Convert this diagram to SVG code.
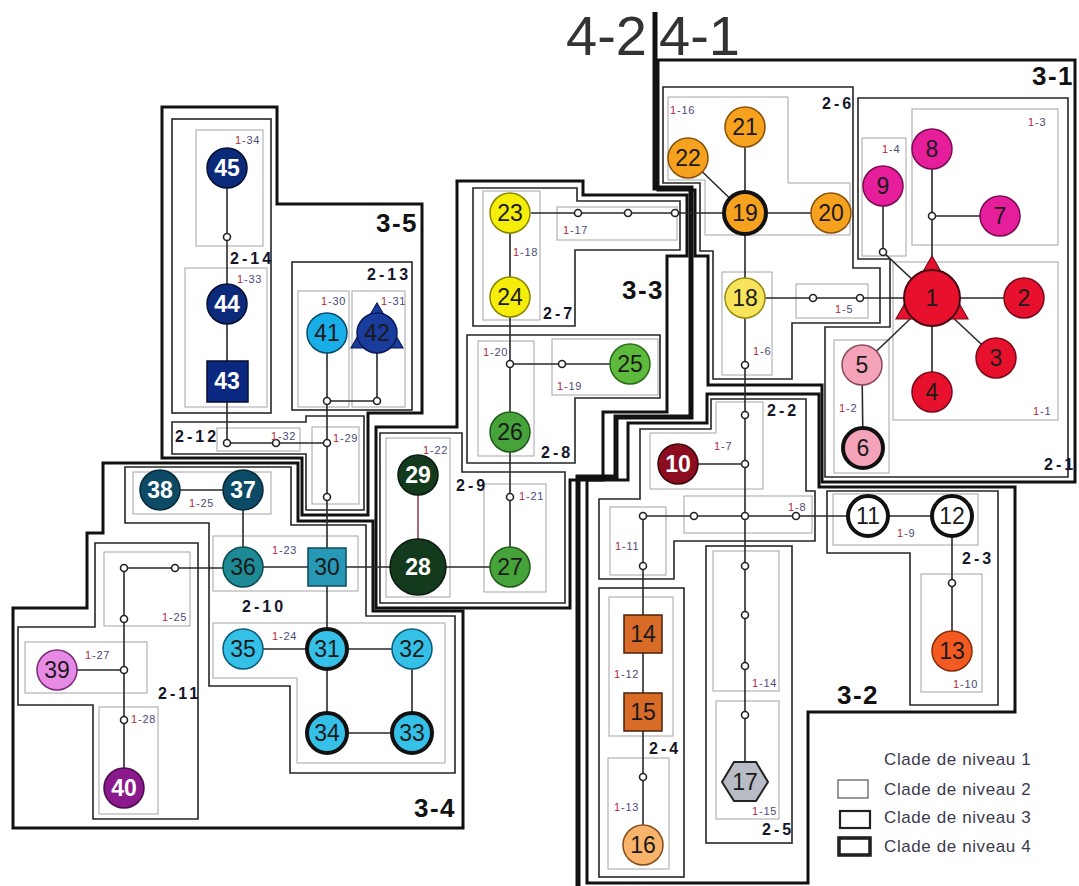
<svg xmlns="http://www.w3.org/2000/svg" width="1079" height="886" viewBox="0 0 1079 886">
<style>
.l1{fill:none;stroke:#a4a4a4;stroke-width:1}
.l2{fill:none;stroke:#262626;stroke-width:1.6}
.l3{fill:none;stroke:#111;stroke-width:3}
.l4{fill:none;stroke:#111;stroke-width:5}
.e{fill:none;stroke:#2a2a2a;stroke-width:1.6}
.j{fill:#fff;stroke:#222;stroke-width:1.6}
.k{stroke:#111;stroke-width:4}
.t{font-family:"Liberation Sans",Arial,sans-serif;font-size:23px;text-anchor:middle;fill:#1a1a1a}
.w{fill:#fff;font-weight:bold}
.s{font-family:"Liberation Sans",Arial,sans-serif;font-size:11px;fill:#4a4a78;letter-spacing:0.8px}
.r{fill:#b3263a}
.c2{font-family:"Liberation Sans",Arial,sans-serif;font-size:16px;font-weight:bold;fill:#15152a;letter-spacing:3px}
.c3{font-family:"Liberation Sans",Arial,sans-serif;font-size:26px;font-weight:bold;fill:#111;letter-spacing:1.5px}
.c4{font-family:"Liberation Sans",Arial,sans-serif;font-size:56px;fill:#333}
.lg{font-family:"Liberation Sans",Arial,sans-serif;font-size:17px;fill:#3a3a4c;letter-spacing:0.6px}
</style>
<rect width="1079" height="886" fill="#fff"/>

<g id="clades-level1">
<rect class="l1" x="893" y="262" width="165" height="158"/>
<rect class="l1" x="834" y="340" width="55" height="133"/>
<rect class="l1" x="912" y="109" width="146" height="136"/>
<rect class="l1" x="862" y="138" width="44" height="118"/>
<rect class="l1" x="796" y="284" width="72" height="34"/>
<rect class="l1" x="722" y="272" width="50" height="103"/>
<polygon class="l1" points="716,402 763,402 763,489 650,489 650,433 716,433"/>
<rect class="l1" x="684" y="496" width="128" height="37"/>
<rect class="l1" x="833" y="494" width="145" height="51"/>
<rect class="l1" x="921" y="574" width="61" height="118"/>
<rect class="l1" x="610" y="507" width="56" height="68"/>
<rect class="l1" x="609" y="597" width="64" height="139"/>
<rect class="l1" x="608" y="758" width="61" height="111"/>
<rect class="l1" x="713" y="551" width="66" height="140"/>
<rect class="l1" x="716" y="701" width="63" height="118"/>
<polygon class="l1" points="668,97 788,97 788,183 850,183 850,235 705,235 705,180 668,180"/>
<rect class="l1" x="557" y="207" width="120" height="33"/>
<rect class="l1" x="483" y="191" width="57" height="129"/>
<rect class="l1" x="552" y="339" width="106" height="56"/>
<rect class="l1" x="478" y="341" width="56" height="115"/>
<rect class="l1" x="484" y="484" width="62" height="108"/>
<rect class="l1" x="386" y="438" width="64" height="159"/>
<rect class="l1" x="213" y="536" width="145" height="55"/>
<polygon class="l1" points="213,623 445,623 445,763 297,763 297,678 213,678"/>
<rect class="l1" x="133" y="472" width="138" height="42"/>
<rect class="l1" x="104" y="552" width="86" height="74"/>
<rect class="l1" x="25" y="642" width="122" height="51"/>
<rect class="l1" x="99" y="707" width="59" height="107"/>
<rect class="l1" x="312" y="427" width="47" height="77"/>
<rect class="l1" x="298" y="291" width="51" height="116"/>
<rect class="l1" x="352" y="291" width="53" height="116"/>
<rect class="l1" x="217" y="428" width="83" height="23"/>
<rect class="l1" x="185" y="268" width="82" height="139"/>
<rect class="l1" x="196" y="130" width="67" height="116"/>
</g>

<g id="clades-level2">
<polygon class="l2" points="858,98 1068,98 1068,477 825,477 825,327 890,327 890,259 858,259"/>
<polygon class="l2" points="663,87 853,87 853,268 880,268 880,323 792,323 792,379 713,379 713,251 700,251 700,183 663,183"/>
<polygon class="l2" points="711,399 806,399 806,491 815,491 815,541 674,541 674,579 599,579 599,499 640,499 640,429 711,429"/>
<polygon class="l2" points="827,491 998,491 998,705 910,705 910,553 827,553"/>
<rect class="l2" x="599" y="588" width="85" height="289"/>
<rect class="l2" x="706" y="546" width="86" height="297"/>
<polygon class="l2" points="473,188 577,188 577,201 680,201 680,250 575,250 575,326 473,326"/>
<polygon class="l2" points="467,335 660,335 660,398 575,398 575,463 467,463"/>
<polygon class="l2" points="380,433 462,433 462,472 565,472 565,603 380,603"/>
<polygon class="l2" points="125,467 291,467 291,525 366,525 366,616 455,616 455,773 290,773 290,686 209,686 209,523 125,523"/>
<polygon class="l2" points="95,543 198,543 198,819 93,819 93,705 18,705 18,627 95,627"/>
<polygon class="l2" points="172,422 306,422 306,416 364,416 364,510 306,510 306,454 172,454"/>
<rect class="l2" x="292" y="262" width="120" height="148"/>
<rect class="l2" x="172" y="119" width="99" height="294"/>
</g>

<g id="clades-level3">
<polygon class="l3" points="658,60 1075,60 1075,482 822,482 822,385 708,385 708,256 695,256 695,190 658,190"/>
<polygon class="l3" points="707,394 819,394 819,487 1015,487 1015,712 808,712 808,883 587,883 587,480 628,480 628,423 707,423"/>
<polygon class="l3" points="457,181 583,181 583,195 687,195 687,256 667,256 667,412 603,412 603,480 570,480 570,608 376,608 376,427 457,427"/>
<polygon class="l3" points="103,463 298,463 298,521 373,521 373,611 463,611 463,828 13,828 13,608 87,608 87,533 103,533"/>
<polygon class="l3" points="162,107 277,107 277,204 422,204 422,413 368,413 368,515 302,515 302,458 162,458"/>
</g>

<g id="clades-level4">
<polyline class="l4" points="655,12 655,188 691,188 691,417 616,417 616,477 578,477 578,886"/>
</g>

<g id="connectors">
<path class="e" d="M745,127V782 M688,158L745,213 M745,213H831 M531,213H745 M745,298H932 M932,298H1024 M932,298L996,358 M932,298V392 M932,298L862,365L863,448 M932,298V149 M932,216H1000 M932,298L883,252V186 M678,464H745 M643,516H868 M868,516H952 M952,516V651 M643,516V845 M510,213V567 M510,364H630 M327,567H510 M243,567H327 M124,568H243 M124,568V788 M57,670H124 M327,333V733 M327,401H377V333 M227,443H327 M227,168V443 M243,649H412 M412,649V733 M327,733H412 M243,490V567 M160,490H243"/>
<path d="M418,475V567" fill="none" stroke="#8a2a38" stroke-width="1.4"/>
<g class="j">
<circle cx="578" cy="213" r="3.5"/><circle cx="628" cy="213" r="3.5"/><circle cx="675" cy="213" r="3.5"/>
<circle cx="813" cy="298" r="3.5"/><circle cx="860" cy="298" r="3.5"/>
<circle cx="932" cy="216" r="3.5"/><circle cx="883" cy="252" r="3.5"/>
<circle cx="745" cy="365" r="3.5"/><circle cx="745" cy="415" r="3.5"/><circle cx="745" cy="464" r="3.5"/><circle cx="745" cy="516" r="3.5"/><circle cx="745" cy="566" r="3.5"/><circle cx="745" cy="615" r="3.5"/><circle cx="745" cy="666" r="3.5"/><circle cx="745" cy="715" r="3.5"/>
<circle cx="643" cy="516" r="3.5"/><circle cx="694" cy="516" r="3.5"/><circle cx="796" cy="516" r="3.5"/>
<circle cx="952" cy="583" r="3.5"/><circle cx="643" cy="566" r="3.5"/><circle cx="643" cy="777" r="3.5"/>
<circle cx="510" cy="364" r="3.5"/><circle cx="562" cy="364" r="3.5"/><circle cx="510" cy="497" r="3.5"/>
<circle cx="175" cy="568" r="3.5"/><circle cx="124" cy="568" r="3.5"/><circle cx="124" cy="619" r="3.5"/><circle cx="124" cy="670" r="3.5"/><circle cx="124" cy="720" r="3.5"/>
<circle cx="327" cy="401" r="3.5"/><circle cx="377" cy="401" r="3.5"/><circle cx="327" cy="443" r="3.5"/><circle cx="327" cy="497" r="3.5"/>
<circle cx="227" cy="443" r="3.5"/><circle cx="276" cy="443" r="3.5"/><circle cx="227" cy="237" r="3.5"/>
</g>
</g>

<g id="n1"><polygon points="932,256 968,319 896,319" fill="#e8112d" stroke="#7a0818" stroke-width="1.2"/><circle cx="932" cy="298" r="28" fill="#e8112d" stroke="#4a0610" stroke-width="2"/><text class="t" x="932" y="306" fill="#3a0a10">1</text></g>
<g id="n2"><circle cx="1024" cy="298" r="20" fill="#e8112d" stroke="#7a0818" stroke-width="1.5"/><text class="t" x="1024" y="306">2</text></g>
<g id="n3"><circle cx="996" cy="358" r="20" fill="#e8112d" stroke="#7a0818" stroke-width="1.5"/><text class="t" x="996" y="366">3</text></g>
<g id="n4"><circle cx="932" cy="392" r="20" fill="#e8112d" stroke="#7a0818" stroke-width="1.5"/><text class="t" x="932" y="400">4</text></g>
<g id="n5"><circle cx="862" cy="365" r="20" fill="#f4a3b8" stroke="#8a4a5a" stroke-width="1.5"/><text class="t" x="862" y="373">5</text></g>
<g id="n6"><circle cx="863" cy="448" r="20" fill="#f4a3b8" class="k"/><text class="t" x="863" y="456">6</text></g>
<g id="n7"><circle cx="1000" cy="216" r="20" fill="#e61e9c" stroke="#7a0a50" stroke-width="1.5"/><text class="t" x="1000" y="224">7</text></g>
<g id="n8"><circle cx="932" cy="149" r="20" fill="#e61e9c" stroke="#7a0a50" stroke-width="1.5"/><text class="t" x="932" y="157">8</text></g>
<g id="n9"><circle cx="883" cy="186" r="20" fill="#e61e9c" stroke="#7a0a50" stroke-width="1.5"/><text class="t" x="883" y="194">9</text></g>
<g id="n10"><circle cx="678" cy="464" r="20" fill="#8b0d1f" stroke="#3a0508" stroke-width="1.5"/><text class="t w" x="678" y="472">10</text></g>
<g id="n11"><circle cx="868" cy="516" r="20" fill="#fff" class="k"/><text class="t" x="868" y="524">11</text></g>
<g id="n12"><circle cx="952" cy="516" r="20" fill="#fff" class="k"/><text class="t" x="952" y="524">12</text></g>
<g id="n13"><circle cx="952" cy="651" r="20" fill="#f25a22" stroke="#8a2a08" stroke-width="1.5"/><text class="t" x="952" y="659">13</text></g>
<g id="n14"><rect x="624" y="615" width="38" height="38" fill="#d96b28" stroke="#4a2008" stroke-width="1.5"/><text class="t" x="643" y="642">14</text></g>
<g id="n15"><rect x="624" y="693" width="38" height="38" fill="#d96b28" stroke="#4a2008" stroke-width="1.5"/><text class="t" x="643" y="720">15</text></g>
<g id="n16"><circle cx="643" cy="845" r="20" fill="#f9b46b" stroke="#8a4a1a" stroke-width="1.5"/><text class="t" x="643" y="853" fill="#4a1208">16</text></g>
<g id="n17"><polygon points="722,782 734,762 756,762 768,782 756,801 734,801" fill="#b9bcc4" stroke="#222" stroke-width="2"/><text class="t" x="745" y="790">17</text></g>
<g id="n18"><circle cx="745" cy="298" r="20" fill="#f8e45a" stroke="#9a8a10" stroke-width="1.5"/><text class="t" x="745" y="306">18</text></g>
<g id="n19"><circle cx="745" cy="213" r="21" fill="#f6a21e" class="k"/><text class="t" x="745" y="221">19</text></g>
<g id="n20"><circle cx="831" cy="213" r="20" fill="#f6a21e" stroke="#8a5008" stroke-width="1.5"/><text class="t" x="831" y="221">20</text></g>
<g id="n21"><circle cx="745" cy="127" r="20" fill="#f6a21e" stroke="#8a5008" stroke-width="1.5"/><text class="t" x="745" y="135">21</text></g>
<g id="n22"><circle cx="688" cy="158" r="20" fill="#f6a21e" stroke="#8a5008" stroke-width="1.5"/><text class="t" x="688" y="166">22</text></g>
<g id="n23"><circle cx="510" cy="213" r="20" fill="#f4ee0a" stroke="#8a8400" stroke-width="1.5"/><text class="t" x="510" y="221">23</text></g>
<g id="n24"><circle cx="510" cy="297" r="20" fill="#f4ee0a" stroke="#8a8400" stroke-width="1.5"/><text class="t" x="510" y="305">24</text></g>
<g id="n25"><circle cx="630" cy="364" r="20" fill="#5dba3c" stroke="#2a6a18" stroke-width="1.5"/><text class="t" x="630" y="372">25</text></g>
<g id="n26"><circle cx="510" cy="432" r="20" fill="#46a33a" stroke="#1e5a18" stroke-width="1.5"/><text class="t" x="510" y="440">26</text></g>
<g id="n27"><circle cx="510" cy="567" r="20" fill="#46a33a" stroke="#1e5a18" stroke-width="1.5"/><text class="t" x="510" y="575">27</text></g>
<g id="n28"><circle cx="418" cy="567" r="28" fill="#143a1e" stroke="#0a1a0e" stroke-width="1.5"/><text class="t w" x="418" y="575">28</text></g>
<g id="n29"><circle cx="418" cy="475" r="20" fill="#143a1e" stroke="#0a1a0e" stroke-width="1.5"/><text class="t w" x="418" y="483">29</text></g>
<g id="n30"><rect x="308" y="548" width="38" height="38" fill="#2798b5" stroke="#0d4a5a" stroke-width="1.5"/><text class="t" x="327" y="575" fill="#0a2a3a">30</text></g>
<g id="n31"><circle cx="327" cy="649" r="20" fill="#35c0e8" class="k"/><text class="t" x="327" y="657">31</text></g>
<g id="n32"><circle cx="412" cy="649" r="20" fill="#35c0e8" stroke="#0a5a78" stroke-width="1.5"/><text class="t" x="412" y="657">32</text></g>
<g id="n33"><circle cx="412" cy="733" r="20" fill="#35c0e8" class="k"/><text class="t" x="412" y="741">33</text></g>
<g id="n34"><circle cx="327" cy="733" r="20" fill="#35c0e8" class="k"/><text class="t" x="327" y="741">34</text></g>
<g id="n35"><circle cx="243" cy="649" r="20" fill="#35c0e8" stroke="#0a5a78" stroke-width="1.5"/><text class="t" x="243" y="657">35</text></g>
<g id="n36"><circle cx="243" cy="567" r="20" fill="#1e8a96" stroke="#0a4a50" stroke-width="1.5"/><text class="t" x="243" y="575">36</text></g>
<g id="n37"><circle cx="243" cy="490" r="20" fill="#0d4a66" stroke="#062a3a" stroke-width="1.5"/><text class="t w" x="243" y="498">37</text></g>
<g id="n38"><circle cx="160" cy="490" r="20" fill="#0d4a66" stroke="#062a3a" stroke-width="1.5"/><text class="t w" x="160" y="498">38</text></g>
<g id="n39"><circle cx="57" cy="670" r="20" fill="#e68ae6" stroke="#7a2a7a" stroke-width="1.5"/><text class="t" x="57" y="678">39</text></g>
<g id="n40"><circle cx="124" cy="788" r="20" fill="#8a1a8c" stroke="#4a0a4a" stroke-width="1.5"/><text class="t w" x="124" y="796">40</text></g>
<g id="n41"><circle cx="327" cy="333" r="20" fill="#18aee8" stroke="#0a4a6a" stroke-width="1.5"/><text class="t" x="327" y="341">41</text></g>
<g id="n42"><polygon points="377,303 403,348 351,348" fill="#1a3c9c" stroke="#0a1a5a" stroke-width="1.2"/><circle cx="377" cy="333" r="20" fill="#1a3c9c" stroke="#0a1a5a" stroke-width="1.5"/><text class="t" x="377" y="341" fill="#0c1e5e">42</text></g>
<g id="n43"><rect x="207" y="361" width="41" height="41" fill="#0a2880" stroke="#050f30" stroke-width="1.5"/><text class="t w" x="227" y="389">43</text></g>
<g id="n44"><circle cx="227" cy="304" r="20" fill="#0c2a7a" stroke="#050f30" stroke-width="1.5"/><text class="t w" x="227" y="312">44</text></g>
<g id="n45"><circle cx="227" cy="168" r="20" fill="#0c2a7a" stroke="#050f30" stroke-width="1.5"/><text class="t w" x="227" y="176">45</text></g>

<g id="labels-level1">
<text class="s" x="1033" y="415"><tspan class="r">1</tspan>-1</text>
<text class="s" x="839" y="412"><tspan class="r">1</tspan>-2</text>
<text class="s" x="1028" y="126"><tspan class="r">1</tspan>-3</text>
<text class="s" x="882" y="153"><tspan class="r">1</tspan>-4</text>
<text class="s" x="835" y="313"><tspan class="r">1</tspan>-5</text>
<text class="s" x="753" y="355"><tspan class="r">1</tspan>-6</text>
<text class="s" x="714" y="450"><tspan class="r">1</tspan>-7</text>
<text class="s" x="788" y="511"><tspan class="r">1</tspan>-8</text>
<text class="s" x="897" y="537"><tspan class="r">1</tspan>-9</text>
<text class="s" x="953" y="688"><tspan class="r">1</tspan>-10</text>
<text class="s" x="615" y="550"><tspan class="r">1</tspan>-11</text>
<text class="s" x="614" y="678"><tspan class="r">1</tspan>-12</text>
<text class="s" x="614" y="811"><tspan class="r">1</tspan>-13</text>
<text class="s" x="752" y="687"><tspan class="r">1</tspan>-14</text>
<text class="s" x="752" y="815"><tspan class="r">1</tspan>-15</text>
<text class="s" x="670" y="114"><tspan class="r">1</tspan>-16</text>
<text class="s" x="563" y="234"><tspan class="r">1</tspan>-17</text>
<text class="s" x="513" y="256"><tspan class="r">1</tspan>-18</text>
<text class="s" x="557" y="390"><tspan class="r">1</tspan>-19</text>
<text class="s" x="483" y="356"><tspan class="r">1</tspan>-20</text>
<text class="s" x="519" y="500"><tspan class="r">1</tspan>-21</text>
<text class="s" x="423" y="454"><tspan class="r">1</tspan>-22</text>
<text class="s" x="272" y="554"><tspan class="r">1</tspan>-23</text>
<text class="s" x="272" y="640"><tspan class="r">1</tspan>-24</text>
<text class="s" x="189" y="507"><tspan class="r">1</tspan>-25</text>
<text class="s" x="162" y="621"><tspan class="r">1</tspan>-25</text>
<text class="s" x="85" y="659"><tspan class="r">1</tspan>-27</text>
<text class="s" x="131" y="723"><tspan class="r">1</tspan>-28</text>
<text class="s" x="333" y="442"><tspan class="r">1</tspan>-29</text>
<text class="s" x="321" y="305"><tspan class="r">1</tspan>-30</text>
<text class="s" x="381" y="305"><tspan class="r">1</tspan>-31</text>
<text class="s" x="271" y="440"><tspan class="r">1</tspan>-32</text>
<text class="s" x="237" y="283"><tspan class="r">1</tspan>-33</text>
<text class="s" x="235" y="144"><tspan class="r">1</tspan>-34</text>
</g>

<g id="labels-level2">
<text class="c2" x="1044" y="470">2-1</text>
<text class="c2" x="767" y="416">2-2</text>
<text class="c2" x="962" y="564">2-3</text>
<text class="c2" x="649" y="754">2-4</text>
<text class="c2" x="762" y="835">2-5</text>
<text class="c2" x="822" y="109">2-6</text>
<text class="c2" x="543" y="319">2-7</text>
<text class="c2" x="541" y="458">2-8</text>
<text class="c2" x="456" y="491">2-9</text>
<text class="c2" x="242" y="612">2-10</text>
<text class="c2" x="158" y="699">2-11</text>
<text class="c2" x="175" y="442">2-12</text>
<text class="c2" x="367" y="280">2-13</text>
<text class="c2" x="230" y="264">2-14</text>
</g>

<g id="labels-level3">
<text class="c3" x="1032" y="85">3-1</text>
<text class="c3" x="837" y="704">3-2</text>
<text class="c3" x="622" y="299">3-3</text>
<text class="c3" x="414" y="817">3-4</text>
<text class="c3" x="376" y="232">3-5</text>
</g>

<g id="labels-level4">
<text class="c4" x="647" y="55" text-anchor="end">4-2</text>
<text class="c4" x="659" y="55">4-1</text>
</g>

<g id="legend">
<text class="lg" x="884" y="765">Clade de niveau 1</text>
<rect x="838" y="780" width="30" height="18" fill="none" stroke="#555" stroke-width="1.2"/>
<text class="lg" x="884" y="795">Clade de niveau 2</text>
<rect x="840" y="811" width="30" height="17" fill="none" stroke="#222" stroke-width="2.2"/>
<text class="lg" x="884" y="823">Clade de niveau 3</text>
<rect x="839" y="838" width="31" height="17" fill="none" stroke="#222" stroke-width="3.6"/>
<text class="lg" x="884" y="852">Clade de niveau 4</text>
</g>
</svg>
